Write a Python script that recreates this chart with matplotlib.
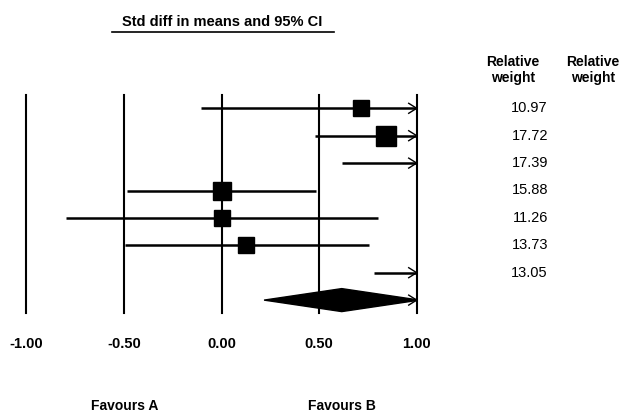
import matplotlib
matplotlib.use("Agg")
import matplotlib.pyplot as plt
import matplotlib.transforms as mtransforms
from matplotlib import font_manager
import numpy as np

# study rows: point estimate and 95% CI (values past 1.00 are cut off in the plot)
effect = [0.715, 0.845, 1.15, 0.0, 0.0, 0.128, 1.35]
lower = [-0.104, 0.478, 0.618, -0.484, -0.799, -0.494, 0.783]
upper = [1.55, 1.20, 1.70, 0.486, 0.801, 0.756, 1.90]
weights = [10.97, 17.72, 17.39, 15.88, 11.26, 13.73, 13.05]
# summary diamond
summ_lower, summ_effect, summ_upper = 0.218, 0.616, 1.014
ticks = [-1.0, -0.5, 0.0, 0.5, 1.0]
tick_labels = ['-1.00', '-0.50', '0.00', '0.50', '1.00']

names = [f.name for f in font_manager.fontManager.ttflist]
fam = 'Liberation Sans Narrow' if 'Liberation Sans Narrow' in names else 'Liberation Sans'
plt.rcParams['font.family'] = [fam, 'DejaVu Sans']

W, H = 622, 412
fig = plt.figure(figsize=(W / 100, H / 100), dpi=100)

# axes placed so that -1..1 spans pixel 26..417 and rows sit 27.4 px apart
x0, x1 = 26.3, 416.7
ytop, ybot = 95.0, 313.0
ax = fig.add_axes([x0 / W, 1 - ybot / H, (x1 - x0) / W, (ybot - ytop) / H])
row0, rowstep = 108.3, 27.4
ax.set_xlim(-1, 1)
ax.set_ylim((ybot - row0) / rowstep, (ytop - row0) / rowstep)
for s in ax.spines.values():
    s.set_visible(False)
ax.set_yticks([])
ax.set_xticks(ticks)
ax.set_xticklabels(tick_labels, fontsize=10.5, fontweight='bold')
ax.tick_params(axis='x', length=0, pad=17)

for t in ticks:
    ax.axvline(t, color='black', lw=1.5, clip_on=False, zorder=1)

ax_w = 195.2  # px per unit
dx = 8 / ax_w
dy = 5 / rowstep
for i in range(len(effect)):
    ax.plot([lower[i], min(upper[i], 1.0)], [i, i], color='black', lw=1.8,
            solid_capstyle='butt', zorder=2)
    side = 3.3 * np.sqrt(weights[i])
    ax.plot(effect[i], i, marker='s', color='black', markersize=side,
            linestyle='none', zorder=3)
    if upper[i] > 1.0:
        ax.plot([1 - dx, 1, 1 - dx], [i - dy, i, i + dy], color='black',
                lw=1.0, clip_on=False, zorder=3)
    ax.text(548 / W, i, '%.2f' % weights[i],
            transform=mtransforms.blended_transform_factory(fig.transFigure, ax.transData),
            ha='right', va='center', fontsize=10.5)

# summary diamond, cut at 1.00
yd = len(effect)
hh = 11.5 / rowstep
ax.fill([summ_lower, summ_effect, summ_upper, summ_effect],
        [yd, yd - hh, yd, yd + hh], color='black', zorder=3)
ax.plot([1 - dx, 1, 1 - dx], [yd - dy, yd, yd + dy], color='black', lw=1.0,
        clip_on=False, zorder=3)

# header
fig.text(222 / W, 1 - 22 / H, 'Std diff in means and 95% CI', ha='center',
         va='center', fontsize=10.5, fontweight='bold')
fig.add_artist(plt.Line2D([112 / W, 334 / W], [1 - 32 / H, 1 - 32 / H],
                          transform=fig.transFigure, color='black', lw=1.2))
for xc in (513, 593):
    fig.text(xc / W, 1 - 70 / H, 'Relative\nweight', ha='center', va='center',
             fontsize=10, fontweight='bold', linespacing=1.15)

fig.text(125 / W, 1 - 406 / H, 'Favours A', ha='center', va='center',
         fontsize=10, fontweight='bold')
fig.text(342 / W, 1 - 406 / H, 'Favours B', ha='center', va='center',
         fontsize=10, fontweight='bold')

fig.savefig('out.png', dpi=100)
